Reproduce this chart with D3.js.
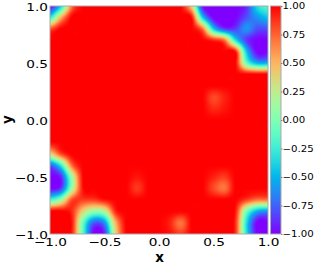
<!DOCTYPE html>
<html>
<head>
<meta charset="utf-8">
<style>
  body { margin: 0; background: #fff; }
  text { font-family: "DejaVu Sans", sans-serif; fill: #000; }
</style>
<script src="https://cdn.jsdelivr.net/npm/d3@7"></script>
</head>
<body>
<div id="chart"></div>
<script>
// field values on a 21 x 21 grid,
// columns x = -1.0 .. 1.0, rows y = 1.0 (top) .. -1.0 (bottom), step 0.1
var field = [
  [-1, -0.4, 0.7, 1, 1, 1, 1, 1, 1, 1, 1, 1, 1, 0.4, -0.95, -1, -1, -1, -0.9, -0.35, -0.15],
  [-0.3, 0.5, 1, 1, 1, 1, 1, 1, 1, 1, 1, 1, 1, 0.95, -0.4, -1, -1, -1, -0.8, -0.6, -0.45],
  [0.8, 1, 1, 1, 1, 1, 1, 1, 1, 1, 1, 1, 1, 1, 0.7, -0.4, -0.85, -0.85, -0.6, -0.8, -0.8],
  [1, 1, 1, 1, 1, 1, 1, 1, 1, 1, 1, 1, 1, 1, 1, 0.9, 0.7, -0.3, -0.85, -1, -1],
  [1, 1, 1, 1, 1, 1, 1, 1, 1, 1, 1, 1, 1, 1, 1, 1, 1, 0.95, -0.4, -1, -1],
  [1, 1, 1, 1, 1, 1, 1, 1, 1, 1, 1, 1, 1, 1, 1, 1, 1, 1, -0.05, -0.5, -0.5],
  [1, 1, 1, 1, 1, 1, 1, 1, 1, 1, 1, 1, 1, 1, 1, 1, 1, 1, 1, 1, 1],
  [1, 1, 1, 1, 1, 1, 1, 1, 1, 1, 1, 1, 1, 1, 1, 1, 1, 1, 1, 1, 1],
  [1, 1, 1, 1, 1, 1, 1, 1, 1, 1, 1, 1, 1, 1, 1, 0.82, 0.92, 1, 1, 1, 1],
  [1, 1, 1, 1, 1, 1, 1, 1, 1, 1, 1, 1, 1, 1, 1, 0.9, 0.95, 1, 1, 1, 1],
  [1, 1, 1, 1, 1, 1, 1, 1, 1, 1, 1, 1, 1, 1, 1, 1, 1, 1, 1, 1, 1],
  [1, 1, 1, 1, 1, 1, 1, 1, 1, 1, 1, 1, 1, 1, 1, 1, 1, 1, 1, 1, 1],
  [0.97, 1, 1, 1, 1, 1, 1, 1, 1, 1, 1, 1, 1, 1, 1, 1, 1, 1, 1, 1, 1],
  [0.35, 0.8, 1, 1, 1, 1, 1, 1, 1, 1, 1, 1, 1, 1, 1, 1, 1, 1, 1, 1, 1],
  [-0.8, -0.3, 0.7, 1, 1, 1, 1, 1, 1, 1, 1, 1, 1, 1, 1, 1, 1, 1, 1, 1, 1],
  [-1, -0.9, 0.1, 0.97, 1, 1, 1, 1, 0.95, 1, 1, 1, 1, 1, 1, 0.92, 0.85, 1, 1, 1, 1],
  [-1, -0.85, 0.1, 0.95, 1, 1, 1, 1, 0.86, 1, 1, 1, 1, 1, 1, 0.82, 0.7, 1, 1, 1, 1],
  [-0.2, 0.1, 0.8, 0.85, 0.85, 0.95, 1, 1, 1, 1, 1, 1, 1, 1, 1, 1, 1, 1, 0.85, 0.7, 0.7],
  [1, 1, 0.9, 0.4, 0.1, 0.2, 0.9, 1, 1, 1, 1, 1, 1, 1, 1, 1, 1, 0.95, 0, -0.5, -0.6],
  [1, 1, 0.95, -0.05, -0.75, -0.6, 0.5, 1, 1, 1, 1, 0.92, 0.7, 1, 1, 1, 1, 0.9, -0.3, -1, -1],
  [1, 1, 0.93, -0.1, -1, -0.9, 0.35, 1, 1, 1, 1, 0.96, 0.85, 1, 1, 1, 1, 0.9, -0.3, -1, -1]
];
var xTicks = [-1, -0.5, 0, 0.5, 1];
var yTicks = [-1, -0.5, 0, 0.5, 1];
var barTicks = [-1, -0.75, -0.5, -0.25, 0, 0.25, 0.5, 0.75, 1];

var W = 316, H = 267;
var pLeft = 50, pRight = 268, pTop = 6, pBottom = 234;
var sx = 1.24;   // tick labels in the picture are a bit wide
var sxBar = 1.2;

var x = d3.scaleLinear().domain([-1, 1]).range([pLeft, pRight]);
var y = d3.scaleLinear().domain([-1, 1]).range([pBottom, pTop]);
var gx = d3.scaleLinear().domain([-1, 1]).range([0, field[0].length - 1]);
var gy = d3.scaleLinear().domain([1, -1]).range([0, field.length - 1]);

// matplotlib "rainbow"
function rainbow(t) {
  var r = Math.abs(2 * t - 0.5), g = Math.sin(Math.PI * t), b = Math.cos(Math.PI * t / 2);
  var c = function(v) { return Math.round(255 * Math.max(0, Math.min(1, v))); };
  return "rgb(" + c(r) + "," + c(g) + "," + c(b) + ")";
}
var colour = d3.scaleSequential(rainbow).domain([-1, 1]).clamp(true);

function cr(p0, p1, p2, p3, t) {
  return p1 + 0.5 * t * (p2 - p0 + t * (2 * p0 - 5 * p1 + 4 * p2 - p3 + t * (3 * (p1 - p2) + p3 - p0)));
}
function sample(u, v) {
  var n = field.length - 1;
  var cl = function(i) { return Math.max(0, Math.min(n, i)); };
  var ix = Math.floor(u), iy = Math.floor(v), tx = u - ix, ty = v - iy;
  var col = [];
  for (var m = -1; m <= 2; m++) {
    var r = field[cl(iy + m)];
    col.push(cr(r[cl(ix - 1)], r[cl(ix)], r[cl(ix + 1)], r[cl(ix + 2)], tx));
  }
  return cr(col[0], col[1], col[2], col[3], ty);
}

// heat map drawn on a canvas, then placed into the svg
var cw = pRight - pLeft, ch = pBottom - pTop;
var canvas = document.createElement("canvas");
canvas.width = cw; canvas.height = ch;
var ctx = canvas.getContext("2d");
var img = ctx.createImageData(cw, ch);
for (var j = 0; j < ch; j++) {
  for (var i = 0; i < cw; i++) {
    var xv = x.invert(pLeft + i + 0.5), yv = y.invert(pTop + j + 0.5);
    var c = d3.rgb(colour(sample(gx(xv), gy(yv))));
    var k = 4 * (j * cw + i);
    img.data[k] = c.r; img.data[k + 1] = c.g; img.data[k + 2] = c.b; img.data[k + 3] = 255;
  }
}
ctx.putImageData(img, 0, 0);

var svg = d3.select("#chart").append("svg")
    .attr("width", W).attr("height", H);

svg.append("image")
    .attr("x", pLeft).attr("y", pTop)
    .attr("width", cw).attr("height", ch)
    .attr("preserveAspectRatio", "none")
    .attr("href", canvas.toDataURL());

svg.append("rect")
    .attr("x", pLeft).attr("y", pTop).attr("width", cw).attr("height", ch)
    .attr("fill", "none").attr("stroke", "#aaa").attr("stroke-width", 1);

var fmt1 = d3.format(".1f");
var xAxis = svg.append("g")
    .attr("transform", "translate(0," + pBottom + ")")
    .call(d3.axisBottom(x).tickValues(xTicks).tickFormat(fmt1).tickSize(0).tickPadding(4));
var yAxis = svg.append("g")
    .attr("transform", "translate(" + pLeft + ",0)")
    .call(d3.axisLeft(y).tickValues(yTicks).tickFormat(fmt1).tickSize(0).tickPadding(2));
[xAxis, yAxis].forEach(function(a) {
  a.select(".domain").remove();
  a.selectAll("text").attr("font-size", 11).attr("font-family", "DejaVu Sans");
});
xAxis.selectAll("text").attr("transform", "scale(" + sx + ",1)");
yAxis.selectAll("text").attr("x", -2 / sx).attr("dy", "0.4em").attr("transform", "scale(" + sx + ",1)");

svg.append("text")
    .attr("x", 159.5).attr("y", 262)
    .attr("text-anchor", "middle")
    .attr("font-size", 13.5).attr("font-weight", "bold")
    .text("x");
svg.append("text")
    .attr("transform", "translate(11.5,119.5) rotate(-90)")
    .attr("text-anchor", "middle")
    .attr("font-size", 13.5).attr("font-weight", "bold")
    .text("y");

// colour bar
var bx = 270.5, bw = 10.5;
var grad = svg.append("defs").append("linearGradient")
    .attr("id", "cbar").attr("x1", 0).attr("y1", 1).attr("x2", 0).attr("y2", 0);
grad.selectAll("stop").data(d3.range(0, 1.0001, 0.02)).enter().append("stop")
    .attr("offset", function(d) { return d; })
    .attr("stop-color", function(d) { return colour(-1 + 2 * d); });
svg.append("rect")
    .attr("x", bx).attr("y", pTop).attr("width", bw).attr("height", ch)
    .attr("fill", "url(#cbar)").attr("stroke", "#aaa").attr("stroke-width", 1);

var barAxis = svg.append("g")
    .attr("transform", "translate(" + (bx + bw) + ",0)")
    .call(d3.axisRight(y).tickValues(barTicks).tickFormat(d3.format(".2f")).tickSize(1.5).tickPadding(0));
barAxis.select(".domain").remove();
barAxis.selectAll("line").attr("stroke", "#444").attr("stroke-width", 0.6);
barAxis.selectAll("text")
    .attr("font-size", 8.5).attr("font-family", "DejaVu Sans")
    .attr("x", 1.5 / sxBar).attr("transform", "scale(" + sxBar + ",1)");
</script>
</body>
</html>
